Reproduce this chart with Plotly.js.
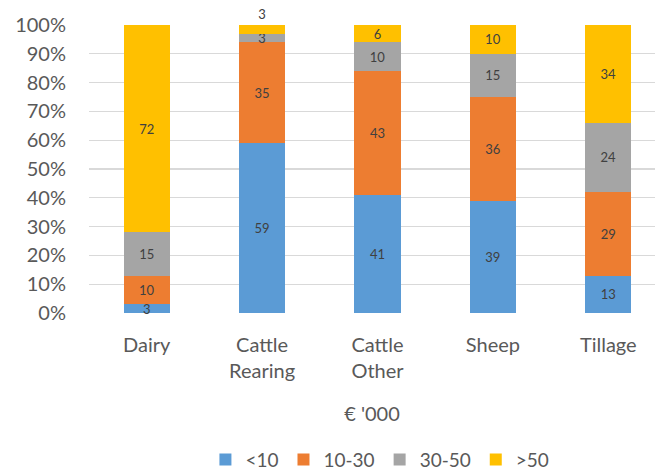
<!DOCTYPE html>
<html>
<head>
<meta charset="utf-8">
<script src="https://cdn.plot.ly/plotly-3.0.1.min.js"></script>
<style>html,body{margin:0;padding:0;background:#fff;}#chart{width:655px;height:472px;}</style>
</head>
<body>
<div id="chart"></div>
<script>
const categories = ['Dairy', 'Cattle<br>Rearing', 'Cattle<br>Other', 'Sheep', 'Tillage'];
const seriesNames = ['<10', '10-30', '30-50', '>50'];
const under10 = [3, 59, 41, 39, 13];
const from10to30 = [10, 35, 43, 36, 29];
const from30to50 = [15, 3, 10, 15, 24];
const over50 = [72, 3, 6, 10, 34];
const yTickVals = [0, 10, 20, 30, 40, 50, 60, 70, 80, 90, 100];
const yTickText = ['0%', '10%', '20%', '30%', '40%', '50%', '60%', '70%', '80%', '90%', '100%'];
const colors = ['#5B9BD5', '#ED7D31', '#A5A5A5', '#FFC000'];

const seriesValues = [under10, from10to30, from30to50, over50];
const FONT = 'Lato, "Open Sans", sans-serif';

const traces = seriesValues.map((vals, i) => ({
  type: 'bar',
  name: seriesNames[i],
  x: categories,
  y: vals,
  text: vals.map(String),
  // the top segment, when very thin, carries its label just above the bar
  textposition: vals.map(v => (i === seriesValues.length - 1 && v < 5) ? 'outside' : 'inside'),
  insidetextanchor: 'middle',
  constraintext: 'none',
  cliponaxis: false,
  textangle: 0,
  textfont: {family: FONT, size: 13, color: '#404040'},
  outsidetextfont: {family: FONT, size: 13, color: '#404040'},
  marker: {color: colors[i], line: {width: 0}},
  hoverinfo: 'none'
}));

const layout = {
  width: 655,
  height: 472,
  margin: {l: 89, r: 0, t: 25, b: 159, pad: 0},
  paper_bgcolor: '#fff',
  plot_bgcolor: '#fff',
  barmode: 'stack',
  barnorm: 'percent',
  bargap: 0.6,
  font: {family: FONT, color: '#595959'},
  xaxis: {
    type: 'category',
    range: [-0.5, 4.405],
    showgrid: false,
    zeroline: false,
    showline: false,
    ticks: '',
    ticklabelstandoff: 18,
    tickfont: {family: FONT, size: 20, color: '#595959'},
    automargin: false,
    title: {text: "€ '000", font: {family: FONT, size: 20, color: '#595959'}, standoff: 25}
  },
  yaxis: {
    range: [0, 100],
    tickvals: yTickVals,
    ticktext: yTickText,
    showgrid: true,
    gridcolor: '#D9D9D9',
    gridwidth: 1.3,
    zeroline: false,
    showline: false,
    ticks: '',
    ticklabelstandoff: 22,
    tickfont: {family: FONT, size: 20, color: '#595959'},
    automargin: false
  },
  showlegend: true,
  legend: {
    orientation: 'h',
    x: 0.514,
    xanchor: 'center',
    xref: 'paper',
    yref: 'container',
    y: 0.026,
    yanchor: 'middle',
    itemwidth: 30,
    font: {family: FONT, size: 19, color: '#595959'},
    traceorder: 'normal',
    itemclick: false
  }
};

Plotly.newPlot('chart', traces, layout, {displayModeBar: false, staticPlot: true});
</script>
</body>
</html>
